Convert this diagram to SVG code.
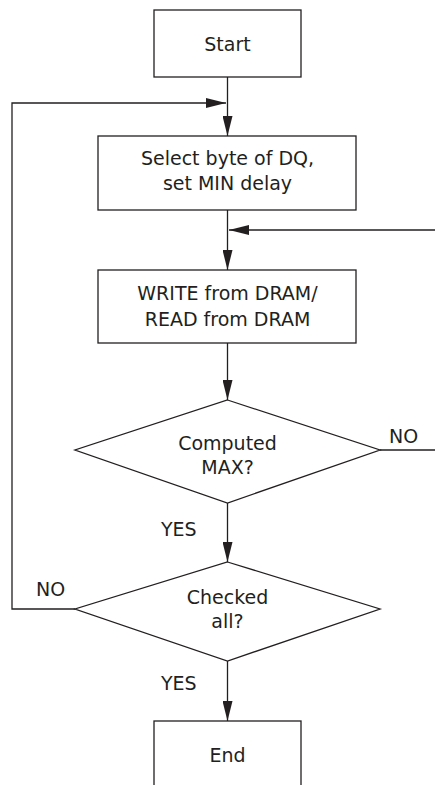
<svg xmlns="http://www.w3.org/2000/svg" width="435" height="785" viewBox="0 0 435 785">
<style>
.box{fill:#fff;stroke:#231f20;stroke-width:1.3}
.ln{fill:none;stroke:#231f20;stroke-width:1.3}
text{font-family:"DejaVu Sans","Liberation Sans",sans-serif;font-size:19px;fill:#231f20;text-anchor:middle}
.lbl{text-anchor:start}
</style>
<defs>
<marker id="ah" viewBox="0 0 20 10" refX="20" refY="5" markerWidth="20" markerHeight="10" markerUnits="userSpaceOnUse" orient="auto">
<path d="M0,0 L20,5 L0,10 Z" fill="#231f20"/>
</marker>
</defs>
<rect width="435" height="785" fill="#fff"/>
<g id="connectors">
<line class="ln" x1="227.5" y1="77" x2="227.5" y2="136" marker-end="url(#ah)"/>
<polyline class="ln" points="75,609 12,609 12,103 226,103" marker-end="url(#ah)"/>
<line class="ln" x1="227.5" y1="210" x2="227.5" y2="270" marker-end="url(#ah)"/>
<polyline class="ln" points="380,450 435,450"/>
<line class="ln" x1="435" y1="230" x2="229" y2="230" marker-end="url(#ah)"/>
<line class="ln" x1="227.5" y1="343" x2="227.5" y2="400" marker-end="url(#ah)"/>
<line class="ln" x1="227.5" y1="503" x2="227.5" y2="562" marker-end="url(#ah)"/>
<line class="ln" x1="227.5" y1="661" x2="227.5" y2="721" marker-end="url(#ah)"/>
<text class="lbl" x="389" y="443">NO</text>
<text class="lbl" x="161" y="536">YES</text>
<text class="lbl" x="36" y="596">NO</text>
<text class="lbl" x="161" y="690">YES</text>
</g>
<g id="start">
<rect class="box" x="154" y="10" width="147" height="67"/>
<text x="227.5" y="51">Start</text>
</g>
<g id="select">
<rect class="box" x="98" y="136" width="258" height="74"/>
<text x="227.5" y="165">Select byte of DQ,</text>
<text x="227.5" y="190">set MIN delay</text>
</g>
<g id="write">
<rect class="box" x="98" y="270" width="258" height="73"/>
<text x="227.5" y="300">WRITE from DRAM/</text>
<text x="227.5" y="326">READ from DRAM</text>
</g>
<g id="computed">
<polygon class="box" points="227.5,400 380,450 227.5,503 75,450"/>
<text x="227.5" y="450">Computed</text>
<text x="227.5" y="474">MAX?</text>
</g>
<g id="checked">
<polygon class="box" points="227.5,562 380,609 227.5,661 75,609"/>
<text x="227.5" y="604">Checked</text>
<text x="227.5" y="628">all?</text>
</g>
<g id="end">
<rect class="box" x="154" y="721" width="147" height="80"/>
<text x="227.5" y="762">End</text>
</g>
</svg>
